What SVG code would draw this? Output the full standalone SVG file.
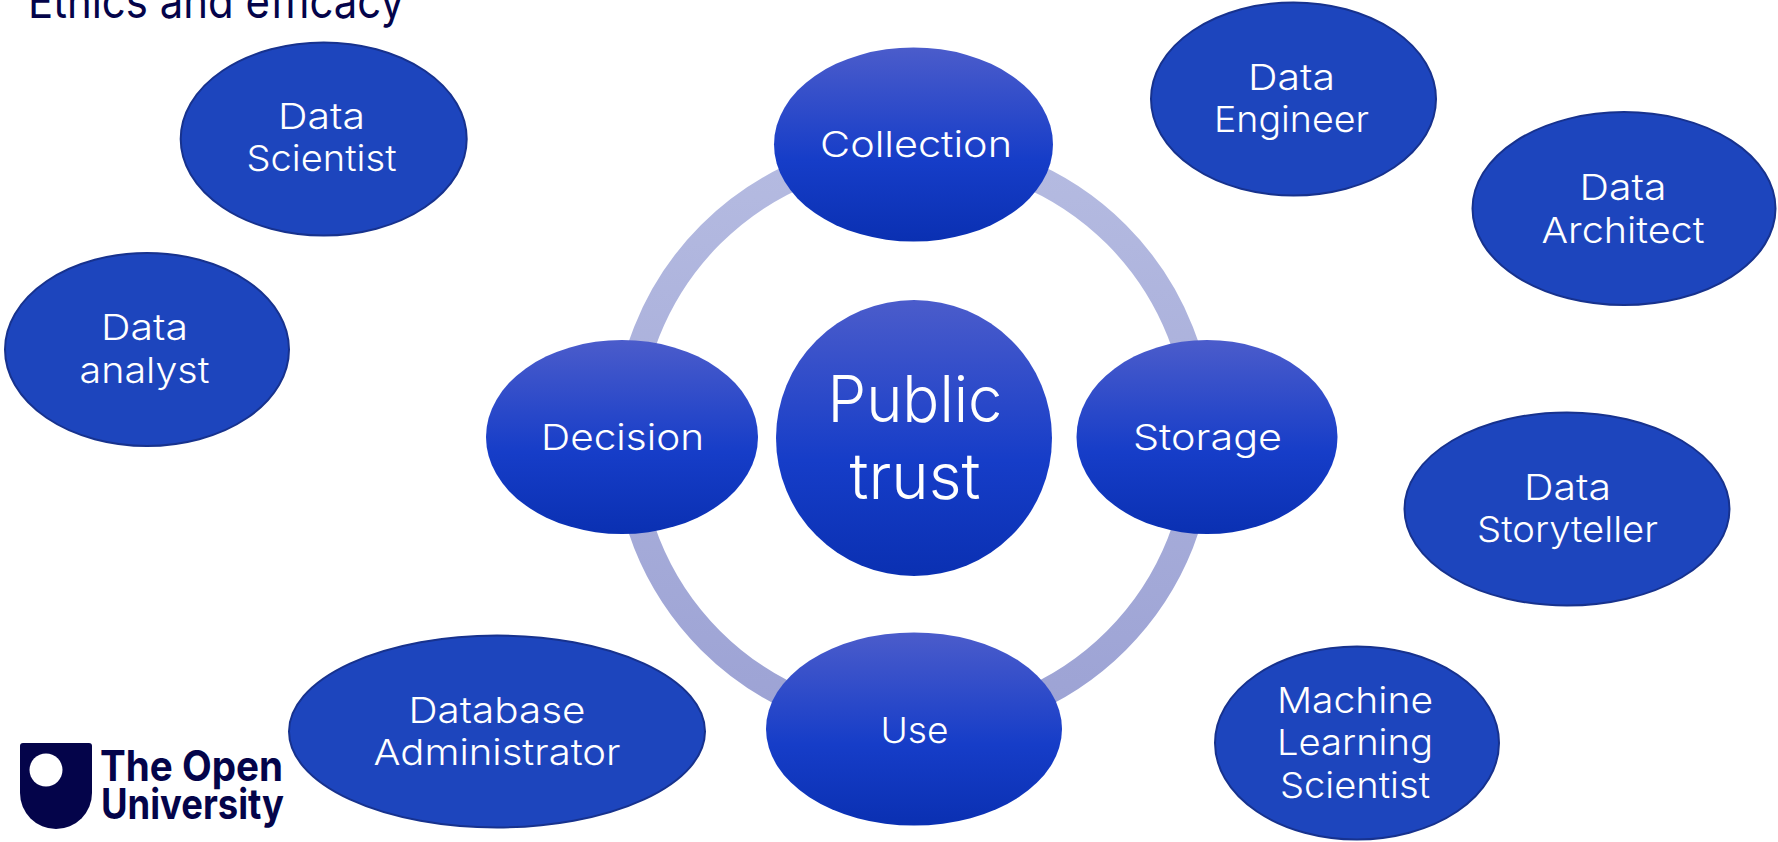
<svg xmlns="http://www.w3.org/2000/svg" width="1778" height="842" viewBox="0 0 1778 842">
<style>
text{font-family:Inter,"Open Sans",sans-serif;font-weight:300;text-anchor:middle;fill:#fff;font-size:36px}
.role{fill:#1d45bd;stroke:#17328e;stroke-width:2}
.core{fill:url(#nodeGrad)}
.ring{fill:none;stroke:url(#ringGrad);stroke-width:27}
.big{font-size:64px}
.title{fill:#04044a;font-size:47px;text-anchor:start;font-weight:400}
.logo{fill:#04044a;font-size:42px;font-weight:700;text-anchor:start}
</style>
<defs>
<linearGradient id="nodeGrad" x1="0" y1="0" x2="0" y2="1">
<stop offset="0" stop-color="#4b5ccb"/><stop offset="0.58" stop-color="#163dc8"/><stop offset="1" stop-color="#0a30b2"/>
</linearGradient>
<linearGradient id="ringGrad" gradientUnits="userSpaceOnUse" x1="0" y1="150" x2="0" y2="730">
<stop offset="0" stop-color="#b5bbe1"/><stop offset="1" stop-color="#9ca2d4"/>
</linearGradient>
</defs>
<rect width="1778" height="842" fill="#fff"/>
<text class="title" x="28" y="18" textLength="376" lengthAdjust="spacingAndGlyphs">Ethics and efficacy</text>
<g id="connectors">
<path class="ring" d="M913.5 150.5A287 287 0 0 1 1200.5 437.5"/>
<path class="ring" d="M1200.5 437.5A287 287 0 0 1 913.5 724.5"/>
<path class="ring" d="M913.5 724.5A287 287 0 0 1 626.5 437.5"/>
<path class="ring" d="M626.5 437.5A287 287 0 0 1 913.5 150.5"/>
</g>
<g id="node-public-trust"><circle class="core" cx="914" cy="438" r="138"/><text class="big" x="915" y="422" textLength="175" lengthAdjust="spacingAndGlyphs">Public</text><text class="big" x="915" y="499" textLength="131" lengthAdjust="spacingAndGlyphs">trust</text></g>
<g id="node-collection"><ellipse class="core" cx="913.5" cy="144.5" rx="139.5" ry="97"/><text x="916" y="157" textLength="192" lengthAdjust="spacingAndGlyphs">Collection</text></g>
<g id="node-storage"><ellipse class="core" cx="1207" cy="437" rx="130.5" ry="97"/><text x="1207.5" y="450" textLength="149" lengthAdjust="spacingAndGlyphs">Storage</text></g>
<g id="node-use"><ellipse class="core" cx="914" cy="729" rx="148" ry="96.5"/><text x="914.5" y="743" textLength="68" lengthAdjust="spacingAndGlyphs">Use</text></g>
<g id="node-decision"><ellipse class="core" cx="622" cy="437" rx="136" ry="97"/><text x="622.5" y="450" textLength="163" lengthAdjust="spacingAndGlyphs">Decision</text></g>
<g id="node-data-scientist"><ellipse class="role" cx="323.7" cy="139" rx="143" ry="96.5"/><text x="321.5" y="129" textLength="87" lengthAdjust="spacingAndGlyphs">Data</text><text x="321.5" y="171" textLength="150" lengthAdjust="spacingAndGlyphs">Scientist</text></g>
<g id="node-data-analyst"><ellipse class="role" cx="147" cy="349.5" rx="142" ry="96.5"/><text x="144.5" y="340" textLength="87" lengthAdjust="spacingAndGlyphs">Data</text><text x="144.5" y="383" textLength="130" lengthAdjust="spacingAndGlyphs">analyst</text></g>
<g id="node-data-engineer"><ellipse class="role" cx="1293.5" cy="99" rx="142.5" ry="96.5"/><text x="1291.5" y="90" textLength="87" lengthAdjust="spacingAndGlyphs">Data</text><text x="1291.5" y="132" textLength="155" lengthAdjust="spacingAndGlyphs">Engineer</text></g>
<g id="node-data-architect"><ellipse class="role" cx="1624" cy="208.6" rx="151.5" ry="96.5"/><text x="1623" y="200" textLength="87" lengthAdjust="spacingAndGlyphs">Data</text><text x="1623" y="243" textLength="163" lengthAdjust="spacingAndGlyphs">Architect</text></g>
<g id="node-data-storyteller"><ellipse class="role" cx="1567" cy="509" rx="162.5" ry="96.5"/><text x="1567.5" y="500" textLength="87" lengthAdjust="spacingAndGlyphs">Data</text><text x="1567.5" y="542" textLength="181" lengthAdjust="spacingAndGlyphs">Storyteller</text></g>
<g id="node-ml-scientist"><ellipse class="role" cx="1357" cy="743" rx="142" ry="96.5"/><text x="1355" y="713" textLength="156" lengthAdjust="spacingAndGlyphs">Machine</text><text x="1355" y="755" textLength="156" lengthAdjust="spacingAndGlyphs">Learning</text><text x="1355" y="798" textLength="150" lengthAdjust="spacingAndGlyphs">Scientist</text></g>
<g id="node-database-administrator"><ellipse class="role" cx="497" cy="731.5" rx="208" ry="96"/><text x="497" y="723" textLength="177" lengthAdjust="spacingAndGlyphs">Database</text><text x="497" y="765" textLength="247" lengthAdjust="spacingAndGlyphs">Administrator</text></g>
<g id="logo">
<path d="M20 746Q20 743 23 743H89Q92 743 92 746V793A36 36 0 0 1 20 793Z" fill="#04044a"/>
<circle cx="46" cy="770" r="16.5" fill="#fff"/>
<text class="logo" x="100" y="781" textLength="183" lengthAdjust="spacingAndGlyphs">The Open</text>
<text class="logo" x="101" y="819" textLength="183" lengthAdjust="spacingAndGlyphs">University</text>
</g>
</svg>
